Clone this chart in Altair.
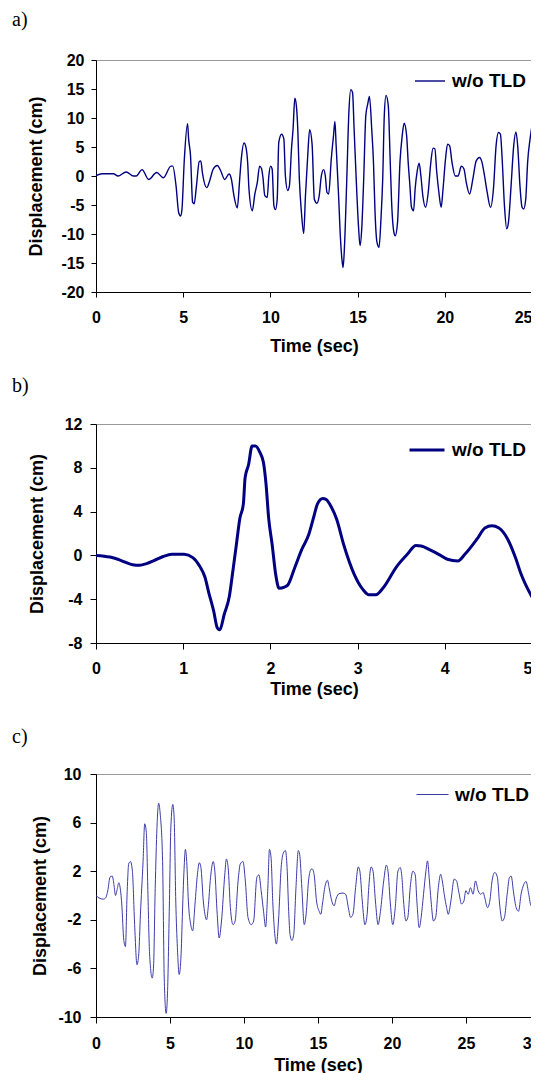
import altair as alt
import pandas as pd

# ---------------- data ----------------
a_time = [0.0, 0.36, 1.0, 1.26, 1.73, 2.15, 2.3, 2.64, 3.02, 3.48, 3.86, 4.3, 4.4, 4.59, 4.74, 4.85, 4.93,
          5.06, 5.25, 5.31, 5.42, 5.54, 5.63, 5.76, 5.92, 6.01, 6.1, 6.35, 6.52, 6.72, 6.96, 7.15, 7.38, 7.63,
          7.76, 7.91, 8.1, 8.24, 8.33, 8.49, 8.58, 8.7, 8.77, 8.96, 9.11, 9.25, 9.38, 9.49, 9.57, 9.68, 9.82,
          9.91, 10.01, 10.1, 10.2, 10.29, 10.39, 10.48, 10.64, 10.77, 10.86, 10.99, 11.09, 11.21, 11.3, 11.4,
          11.49, 11.57, 11.66, 11.78, 11.91, 12.01, 12.14, 12.25, 12.39, 12.52, 12.67, 12.8, 12.92, 13.05,
          13.15, 13.24, 13.34, 13.49, 13.62, 13.7, 13.77, 13.91, 14.02, 14.1, 14.17, 14.25, 14.38, 14.5, 14.61,
          14.71, 14.8, 14.92, 15.05, 15.14, 15.24, 15.35, 15.47, 15.58, 15.68, 15.81, 15.91, 16.0, 16.11,
          16.23, 16.34, 16.44, 16.53, 16.63, 16.76, 16.86, 16.95, 17.08, 17.16, 17.29, 17.43, 17.56, 17.67,
          17.81, 17.9, 18.0, 18.09, 18.21, 18.3, 18.42, 18.53, 18.63, 18.74, 18.9, 19.05, 19.2, 19.33, 19.43,
          19.54, 19.66, 19.79, 19.9, 20.04, 20.16, 20.28, 20.41, 20.6, 20.76, 20.95, 21.1, 21.23, 21.42, 21.61,
          21.8, 21.99, 22.13, 22.28, 22.43, 22.62, 22.79, 22.94, 23.08, 23.19, 23.29, 23.42, 23.55, 23.65,
          23.8, 23.95, 24.08, 24.18, 24.31, 24.43, 24.52, 24.64, 24.75, 24.89, 25.0]
a_disp = [0.05, 0.4, 0.4, 0.0, 0.7, 0.0, 0.0, 1.1, -0.6, 0.6, -0.3, 1.7, 1.7, -1.7, -6.3, -6.9, -5.7,
          2.6, 9.0, 6.4, 3.5, -4.5, -4.8, -1.7, 2.5, 2.6, 0.6, -2.0, -0.8, 1.2, 1.8, 0.9, -0.6, 0.35,
          -0.5, -3.4, -5.5, -0.5, 2.9, 5.7, 5.2, 2.1, -2.2, -6.0, -3.1, -1.1, 1.7, 1.3, -0.2, -3.4, -3.7,
          0.0, 1.7, 1.2, -5.1, -5.8, -4.0, 5.8, 7.2, 6.4, 0.0, -2.5, -1.7, 4.7, 8.1, 13.4,
          12.1, 8.1, -0.5, -6.3, -9.9, -3.4, 3.5, 8.0, 5.5, -4.0, -4.7, -3.4, 0.0, 1.1,
          0.0, -2.8, -3.1, 2.9, 7.0, 9.4, 5.2, -3.4, -10.9, -14.3, -15.8, -12.0, -0.5, 11.0, 14.9,
          14.4, 8.1, -0.5, -8.6, -12.0, -8.9, -0.5, 10.4, 12.4, 13.7, 8.1, 2.4, -6.3, -11.4,
          -12.3, -7.4, -0.5, 10.4, 13.9, 12.1, 3.5, -4.5, -9.7, -10.3, -8.0, 2.4, 7.0, 9.1,
          7.0, 2.4, -1.7, -5.4, -6.0, -2.2, 0.9, 2.2, 0.0, -3.4, -5.4, -2.8, 2.4, 4.8, 4.7,
          0.6, -2.8, -5.4, -2.2, 2.9, 5.5, 5.2, 2.4, 0.0, 0.0, 1.7, 1.2, -1.1, -3.1, -0.5,
          2.6, 3.2, 2.4, 0.0, -2.8, -5.4, -2.2, 5.2, 7.5, 7.2, 2.9, -5.1, -9.1, -8.0,
          -1.7, 5.2, 7.6, 5.2, -1.7, -5.4, -5.7, -4.0, 2.4, 6.4, 8.7]

b_time = [0.0, 0.16, 0.25, 0.33, 0.42, 0.5, 0.58, 0.67, 0.77, 0.87, 1.01, 1.11, 1.19, 1.25, 1.29, 1.35,
          1.39, 1.42, 1.47, 1.53, 1.57, 1.61, 1.65, 1.69, 1.71, 1.75, 1.79, 1.83, 1.88, 1.92, 1.95, 1.98,
          2.02, 2.06, 2.1, 2.16, 2.2, 2.28, 2.36, 2.44, 2.5, 2.54, 2.6, 2.64, 2.7, 2.76, 2.84, 2.96, 3.06,
          3.13, 3.21, 3.29, 3.45, 3.57, 3.67, 3.73, 3.83, 3.93, 4.03, 4.15, 4.23, 4.37, 4.46, 4.54, 4.62,
          4.72, 4.81, 4.87, 5.0]
b_disp = [0.0, -0.15, -0.35, -0.6, -0.85, -0.9, -0.75, -0.45, -0.1, 0.1, 0.1, -0.2, -1.0, -2.0, -3.3, -5.1,
          -6.6, -6.8, -5.4, -3.7, -1.4, 1.0, 3.4, 4.7, 7.1, 8.3, 10.0, 10.0, 9.4, 8.5, 6.5, 3.4,
          1.0, -1.7, -3.0, -2.9, -2.7, -1.1, 0.55, 1.9, 3.6, 4.7, 5.2, 5.1, 4.4, 3.3, 1.0, -1.7, -3.1,
          -3.6, -3.6, -3.0, -1.0, 0.1, 0.9, 0.85, 0.5, 0.1, -0.35, -0.5, 0.1, 1.5, 2.5, 2.7, 2.5,
          1.5, -0.2, -1.6, -3.8]

c_time = [0.0, 0.2, 0.49, 0.65, 0.81, 0.94, 1.1, 1.21, 1.32, 1.43, 1.54, 1.61, 1.74, 1.88, 1.99, 2.1,
          2.21, 2.33, 2.46, 2.6, 2.77, 2.89, 3.0, 3.18, 3.29, 3.4, 3.51, 3.62, 3.8, 3.89, 4.0, 4.12, 4.23,
          4.34, 4.5, 4.61, 4.74, 4.83, 4.95, 5.06, 5.19, 5.28, 5.39, 5.5, 5.62, 5.75, 5.86, 5.95, 6.04,
          6.13, 6.24, 6.4, 6.53, 6.69, 6.85, 6.98, 7.09, 7.25, 7.36, 7.47, 7.58, 7.74, 7.92, 8.03, 8.19,
          8.32, 8.48, 8.7, 8.81, 8.93, 9.08, 9.26, 9.4, 9.6, 9.75, 9.93, 10.09, 10.27, 10.49, 10.65, 10.87,
          11.01, 11.16, 11.32, 11.46, 11.61, 11.72, 11.83, 11.95, 12.06, 12.19, 12.33, 12.51, 12.66, 12.8,
          12.91, 13.02, 13.11, 13.24, 13.36, 13.51, 13.67, 13.76, 13.91, 14.07, 14.2, 14.36, 14.5, 14.6,
          14.74, 14.9, 15.08, 15.19, 15.3, 15.48, 15.64, 15.75, 15.93, 16.09, 16.24, 16.42, 16.69, 16.87,
          17.05, 17.2, 17.36, 17.54, 17.72, 17.83, 17.99, 18.17, 18.32, 18.43, 18.59, 18.72, 18.88, 19.06,
          19.22, 19.44, 19.62, 19.73, 19.89, 20.05, 20.22, 20.4, 20.56, 20.67, 20.78, 20.94, 21.07, 21.23,
          21.41, 21.57, 21.68, 21.84, 21.97, 22.13, 22.29, 22.4, 22.51, 22.64, 22.8, 22.95, 23.13, 23.29,
          23.4, 23.53, 23.69, 23.8, 23.98, 24.2, 24.36, 24.52, 24.7, 24.86, 24.99, 25.15, 25.3, 25.48,
          25.64, 25.82, 26.0, 26.16, 26.27, 26.45, 26.61, 26.76, 26.94, 27.12, 27.27, 27.45, 27.6, 27.78,
          27.94, 28.05, 28.23, 28.39, 28.55, 28.72, 28.9, 29.06, 29.24, 29.4, 29.55, 29.73, 29.89, 30.0]
c_disp = [0.0, -0.2, -0.3, -0.2, 0.5, 1.5, 1.6, 0.9, 0.0, 0.5, 1.05, 0.8, -0.7, -3.7, -4.2, 0.1,
          2.6, 2.8, 2.0, -2.1, -5.7, -4.8, -1.6, 2.8, 5.9, 5.2, 0.1, -4.8, -6.8, -5.8, 0.6, 5.6, 7.6,
          6.7, 2.8, -6.8, -9.7, -8.1, -1.3, 5.7, 7.5, 6.4, -0.45, -4.3, -6.5, -4.8, -0.7, 2.15, 3.8,
          2.8, -0.45, -2.4, -2.9, -0.7, 1.7, 2.7, 2.3, -0.45, -1.55, -2.0, -1.0, 1.5, 2.8, 2.0, -1.55,
          -3.5, -2.1, 1.7, 3.0, 2.3, -1.0, -2.4, -2.1, 1.2, 2.6, 2.8, 1.2, -1.8, -2.4, -2.1, 1.5,
          1.7, 0.4, -1.3, -2.6, 0.6, 3.8, 3.1, -0.7, -2.9, -4.0, -2.1, 2.3, 3.5, 3.7,
          2.3, -1.3, -3.2, -3.7, -3.2, 0.6, 3.7, 3.4, 0.6, -2.4, -1.5, 1.2, 2.1, 2.2,
          1.7, -0.45, -1.3, -1.55, -0.7, 0.8, 1.25, 0.65, -0.45, -0.85, -0.2, 0.15, 0.2, 0.1,
          -1.0, -1.8, -1.55, 0.65, 2.35, 2.0, -0.45, -2.4, -1.55, 0.65, 2.35, 2.0, -0.45, -2.4,
          -1.3, 1.2, 2.5, 2.0, -0.7, -2.4, -1.0, 2.0, 2.3, 1.5, -0.45, -2.1, -1.8, 0.65,
          2.0, 1.7, -0.45, -2.65, -1.8, 0.1, 2.0, 2.85, 1.5, -0.45, -2.1, -1.8, 0.65, 1.75,
          1.2, 0.1, -1.0, -1.55, -0.45, 1.35, 1.2, 0.25, -0.7, -0.45, 0.4, 0.1, 0.65, 0.1,
          1.2, 0.4, 0.1, 0.25, -0.2, -1.0, -0.45, 1.2, 1.9, 1.5, -0.7, -2.1, -1.8, 0.1,
          1.5, 1.6, 0.1, -1.0, -1.3, 0.1, 0.9, 1.15, 0.1, -0.85, -0.45, 0.65, 1.0, 0.9]

series_name = "w/o TLD"
panel_tags = ["a)", "b)", "c)"]
x_title = "Time (sec)"
y_title = "Displacement (cm)"

a_xticks = [0, 5, 10, 15, 20, 25]
a_yticks = [-20, -15, -10, -5, 0, 5, 10, 15, 20]
b_xticks = [0, 1, 2, 3, 4, 5]
b_yticks = [-8, -4, 0, 4, 8, 12]
c_xticks = [0, 5, 10, 15, 20, 25, 30]
c_yticks = [-10, -6, -2, 2, 6, 10]

SANS = "Liberation Sans"
SERIF = "Liberation Serif"
NEG = "datum.value < 0 ? '-' + abs(datum.value) : '' + datum.value"


def panel(time, disp, tag, xticks, yticks, w, h, color, sw, tick, ylabpad, ytitlepad,
          xlabpad, xtitlepad, tdx, toff, lx, ly, symlen, xtitle, xtitle_lh):
    df = pd.DataFrame({"t": time, "d": disp, "s": [series_name] * len(time)})
    last = xticks[-1]
    return alt.Chart(df).mark_line(interpolate="monotone", strokeWidth=sw).encode(
        x=alt.X("t:Q",
                scale=alt.Scale(domain=[xticks[0], xticks[-1]], nice=False, zero=False),
                axis=alt.Axis(values=xticks, title=xtitle, labelFlush=False, tickSize=tick,
                              labelPadding=xlabpad, titlePadding=xtitlepad, labelOverlap=False,
                              titleLineHeight=xtitle_lh,
                              labelAlign={"condition": {"test": f"datum.value == {last}",
                                                        "value": "right"},
                                          "value": "center"})),
        y=alt.Y("d:Q",
                scale=alt.Scale(domain=[yticks[0], yticks[-1]], nice=False, zero=False),
                axis=alt.Axis(values=yticks, title=y_title, labelExpr=NEG, labelFlush=False,
                              tickSize=tick, labelPadding=ylabpad, titlePadding=ytitlepad,
                              labelOverlap=False)),
        color=alt.Color("s:N", scale=alt.Scale(range=[color]),
                        legend=alt.Legend(orient="none", legendX=lx, legendY=ly, title=None,
                                          symbolType="stroke", symbolSize=symlen * symlen,
                                          symbolStrokeWidth=sw, labelFont=SANS, labelFontSize=19,
                                          labelFontWeight="bold", labelColor="black",
                                          labelOffset=6, padding=0)),
    ).properties(
        width=w, height=h,
        title=alt.TitleParams(tag, anchor="start", frame="group", dx=tdx, offset=toff,
                              font=SERIF, fontSize=20, fontWeight="normal", color="black"),
    )


pa = panel(a_time, a_disp, panel_tags[0], a_xticks, a_yticks, 436, 232, "#000080", 1.4, 5, 7, 15,
           12, 12, -84, 22, 318, 5, 30, x_title, 18)
pb = panel(b_time, b_disp, panel_tags[1], b_xticks, b_yticks, 436, 219, "#000080", 3, 6, 8, 18,
           11, 4, -84, 20, 312, 7, 35, [x_title, ""], 8)
pc = panel(c_time, c_disp, panel_tags[2], c_xticks, c_yticks, 444, 243, "#3c3ca8", 1, 6, 9, 8,
           12, 5, -84, 19, 320, 4, 32, x_title, 18)

chart = alt.vconcat(pa, pb, pc, spacing=19).properties(
    padding={"left": 3, "top": 1, "right": -12, "bottom": 0},
).resolve_scale(color="independent").resolve_legend(color="independent").configure_axis(
    labelFont=SANS, labelFontSize=16, labelFontWeight="bold", labelColor="black",
    titleFont=SANS, titleFontSize=18, titleFontWeight="bold", titleColor="black",
    domainColor="black", tickColor="black", grid=False,
).configure_view(stroke="#9a9a9a", strokeWidth=1)

chart.save("out.html", embed_options={"renderer": "svg", "actions": False})
